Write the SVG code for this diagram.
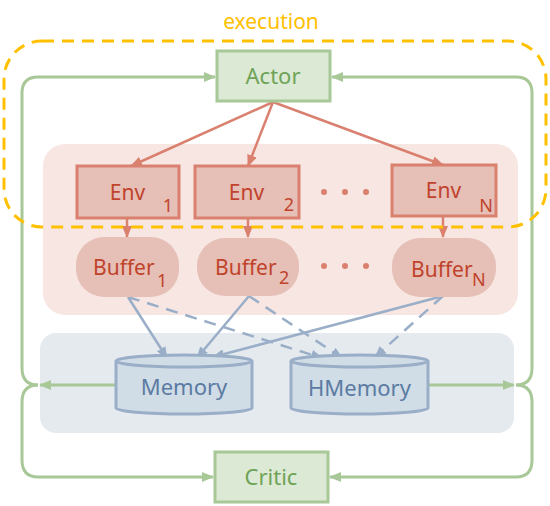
<svg xmlns="http://www.w3.org/2000/svg" width="550" height="506" viewBox="0 0 550 506">
<style>
text{font-family:"Noto Sans","Liberation Sans",sans-serif}
.g{fill:#dce9d5;stroke:#a8c898;stroke-width:3}
.gt{fill:#6fa357;font-size:22px;text-anchor:middle}
.env{fill:#e6bfb6;stroke:#d9806f;stroke-width:3}
.buf{fill:#e6bfb6}
.rt{fill:#c0432c;font-size:21px}
.sub{fill:#c0432c;font-size:18px}
.cyl{fill:#d0dce6;stroke:#9aaec8;stroke-width:3}
.bt{fill:#5b7ba3;font-size:22px;text-anchor:middle}
.ra{fill:none;stroke:#d9806f;stroke-width:2.5;marker-end:url(#ar)}
.ba{fill:none;stroke:#9aaec8;stroke-width:2.5;marker-end:url(#ab)}
.bd{stroke-dasharray:12 8}
.ga{fill:none;stroke:#a8c898;stroke-width:3}
.dot{fill:#d9806f}
</style>
<defs>
<marker id="ar" markerUnits="userSpaceOnUse" markerWidth="12" markerHeight="10" refX="11" refY="5" orient="auto"><path d="M0,0 L12,5 L0,10 Z" fill="#d9806f"/></marker>
<marker id="ab" markerUnits="userSpaceOnUse" markerWidth="12" markerHeight="10" refX="11" refY="5" orient="auto"><path d="M0,0 L12,5 L0,10 Z" fill="#9aaec8"/></marker>
<marker id="ag" markerUnits="userSpaceOnUse" markerWidth="12" markerHeight="10" refX="11" refY="5" orient="auto"><path d="M0,0 L12,5 L0,10 Z" fill="#a8c898"/></marker>
</defs>
<g id="backgrounds">
<rect x="43" y="144" width="475" height="171" rx="22" fill="#f7e6e2"/>
<rect x="40" y="333" width="474" height="100" rx="16" fill="#e5eaef"/>
</g>
<g id="connectors">
<path class="ra" d="M273,102 L131,166"/>
<path class="ra" d="M273,102 L248,166"/>
<path class="ra" d="M273,102 L443,165"/>
<path class="ra" d="M127,218 L127,237"/>
<path class="ra" d="M248,218 L248,237"/>
<path class="ra" d="M443,216 L443,237"/>
<path class="ba" d="M128,297 L167,358"/>
<path class="ba" d="M249,296 L197,358"/>
<path class="ba" d="M443,296 L213,357"/>
<path class="ba bd" d="M128,297 L322,358"/>
<path class="ba bd" d="M249,296 L342,358"/>
<path class="ba bd" d="M443,296 L375,357"/>
<path class="ga" d="M116,385 L40,385" marker-end="url(#ag)"/>
<path class="ga" d="M38,385 Q22,385 22,368 L22,93 Q22,77 38,77 L215,77" marker-end="url(#ag)"/>
<path class="ga" d="M38,385 Q22,385 22,402 L22,460 Q22,477 38,477 L213,477" marker-end="url(#ag)"/>
<path class="ga" d="M428,385 L514,385" marker-end="url(#ag)"/>
<path class="ga" d="M516,385 Q532,385 532,368 L532,93 Q532,77 516,77 L332,77" marker-end="url(#ag)"/>
<path class="ga" d="M516,385 Q532,385 532,402 L532,460 Q532,477 516,477 L330,477" marker-end="url(#ag)"/>
</g>
<g id="actor">
<rect class="g" x="217" y="51" width="113" height="50"/>
<text class="gt" x="273" y="84">Actor</text>
</g>
<g id="env1">
<rect class="env" x="77" y="166" width="102" height="52"/>
<text class="rt" x="127.5" y="200" text-anchor="middle">Env</text>
<text class="sub" x="168" y="212" text-anchor="middle">1</text>
</g>
<g id="env2">
<rect class="env" x="195" y="166" width="104" height="52"/>
<text class="rt" x="246.5" y="200" text-anchor="middle">Env</text>
<text class="sub" x="289" y="211" text-anchor="middle">2</text>
</g>
<g id="envN">
<rect class="env" x="392" y="165" width="104" height="51"/>
<text class="rt" x="443.5" y="198" text-anchor="middle">Env</text>
<text class="sub" x="486" y="212" text-anchor="middle">N</text>
</g>
<g id="dots">
<circle class="dot" cx="324" cy="192" r="3"/><circle class="dot" cx="345" cy="192" r="3"/><circle class="dot" cx="366" cy="192" r="3"/>
<circle class="dot" cx="324" cy="266" r="3"/><circle class="dot" cx="345" cy="266" r="3"/><circle class="dot" cx="366" cy="266" r="3"/>
</g>
<g id="buffer1">
<rect class="buf" x="76" y="237" width="103" height="60" rx="28"/>
<text class="rt" x="93" y="275">Buffer</text>
<text class="sub" x="157" y="287">1</text>
</g>
<g id="buffer2">
<rect class="buf" x="197" y="238" width="102" height="58" rx="28"/>
<text class="rt" x="215" y="275">Buffer</text>
<text class="sub" x="279" y="284">2</text>
</g>
<g id="bufferN">
<rect class="buf" x="392" y="238" width="104" height="59" rx="28"/>
<text class="rt" x="411" y="277">Buffer</text>
<text class="sub" x="472" y="286">N</text>
</g>
<g id="memory">
<path class="cyl" d="M116,361 L116,408 A68,6 0 0 0 252,408 L252,361 A68,6 0 0 0 116,361 Z M116,361 A68,6 0 0 0 252,361"/>
<text class="bt" x="184" y="395">Memory</text>
</g>
<g id="hmemory">
<path class="cyl" d="M291,361 L291,408 A68.5,6 0 0 0 428,408 L428,361 A68.5,6 0 0 0 291,361 Z M291,361 A68.5,6 0 0 0 428,361"/>
<text class="bt" x="359.5" y="396">HMemory</text>
</g>
<g id="critic">
<rect class="g" x="215" y="452" width="113" height="50"/>
<text class="gt" x="271" y="485">Critic</text>
</g>
<g id="execution">
<rect x="4" y="41" width="542" height="186" rx="38" fill="none" stroke="#ffc000" stroke-width="3" stroke-dasharray="12 8"/>
<text x="271" y="29" fill="#ffc000" font-size="21" text-anchor="middle">execution</text>
</g>
</svg>
